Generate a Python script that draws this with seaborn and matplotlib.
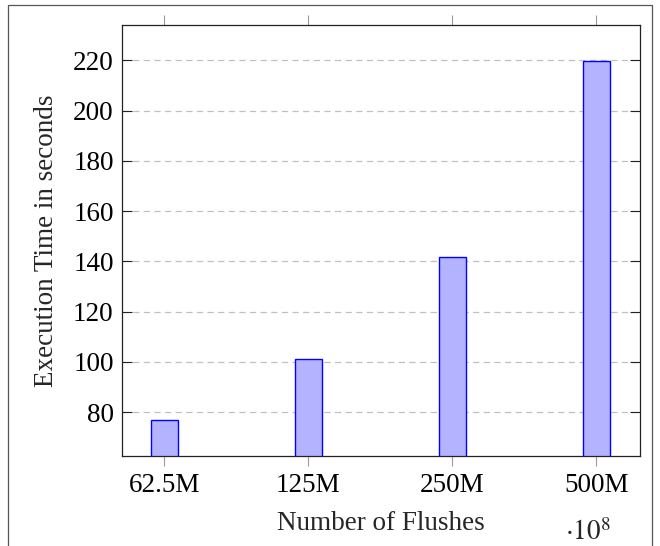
import matplotlib
matplotlib.use("Agg")
import matplotlib.pyplot as plt
import seaborn as sns
import pandas as pd
from matplotlib.patches import Rectangle

categories = ["62.5M", "125M", "250M", "500M"]
exec_time = [76.9, 101.0, 141.7, 219.6]
y_ticks = [80, 100, 120, 140, 160, 180, 200, 220]

sns.set_style("white")
plt.rcParams["font.family"] = ["Liberation Serif", "DejaVu Serif"]
plt.rcParams["mathtext.fontset"] = "stix"

FS = 19.5

df = pd.DataFrame({"flushes": categories, "time": exec_time})

fig = plt.figure(figsize=(6.6, 5.46), dpi=100)
ax = fig.add_axes([122/660, 1-455.7/546, (640-122)/660, (455.7-25)/546])

sns.barplot(data=df, x="flushes", y="time", order=categories, ax=ax,
            width=0.19, color="#b3b3ff", edgecolor="#0000ff", linewidth=1.0,
            saturation=1)

ax.set_xlim(-0.294, 3.303)
ax.set_ylim(62.7, 234.1)
ax.set_yticks(y_ticks)
ax.set_yticklabels([str(v) for v in y_ticks])
ax.yaxis.grid(True, color="#c0c0c0", linestyle=(0, (5, 3.5)), linewidth=0.9)
ax.xaxis.grid(False)
ax.set_axisbelow(True)

for s in ax.spines.values():
    s.set_color("#222222")
    s.set_linewidth(0.9)
    s.set_visible(True)

ax.tick_params(axis="x", which="major", direction="out", length=7.5, width=0.8,
               color="#999999", top=True, bottom=True, labelsize=FS, pad=5,
               labelcolor="black")
ax.tick_params(axis="y", which="major", direction="in", length=7, width=0.8,
               color="#222222", left=True, right=True, labelsize=FS, pad=6,
               labelcolor="black")

ax.set_xlabel("Number of Flushes", fontsize=FS, labelpad=9)
ax.set_ylabel("Execution Time in seconds", fontsize=FS, labelpad=10)

fig.text(588/660, 1-533/546, r"$\cdot10^{8}$", fontsize=FS, ha="center", va="center")

fig.patches.append(Rectangle((8/660, -0.05), (652-8)/660, 1.05-5/546,
                             transform=fig.transFigure, fill=False,
                             edgecolor="#555555", linewidth=0.9))

fig.savefig("out.png", dpi=100)
